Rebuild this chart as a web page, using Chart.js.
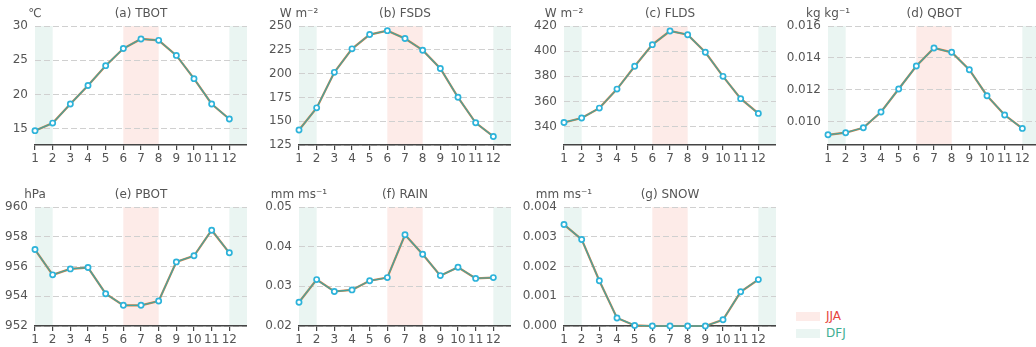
<!DOCTYPE html>
<html>
<head>
<meta charset="utf-8">
<script src="https://cdn.jsdelivr.net/npm/chart.js@4.4.0/dist/chart.umd.min.js"></script>
<style>
  html, body { margin: 0; padding: 0; background: #fff; width: 1036px; height: 347px; overflow: hidden; }
  canvas { position: absolute; }
  .key { position: absolute; left: 796px; height: 14px; font-family: 'DejaVu Sans', sans-serif; font-size: 12px; line-height: 14px; }
  .key span.box { position: absolute; left: 0; top: 3px; width: 24px; height: 9px; }
  .key span.txt { position: absolute; left: 30px; top: 0; white-space: nowrap; }
</style>
</head>
<body>
<div id="wrap"></div>
<div class="key" style="top:309px"><span class="box" style="background:#fdebe8"></span><span class="txt" style="color:#e6453c">JJA</span></div>
<div class="key" style="top:326px"><span class="box" style="background:#eaf5f2"></span><span class="txt" style="color:#3fae93">DFJ</span></div>
<script>
// monthly climatology, one array per variable
const months = [1, 2, 3, 4, 5, 6, 7, 8, 9, 10, 11, 12];
const tbot = [14.7, 15.8, 18.6, 21.3, 24.2, 26.7, 28.1, 27.9, 25.7, 22.3, 18.6, 16.4];
const fsds = [140.7, 164.0, 201.3, 226.0, 241.0, 245.1, 236.8, 224.6, 205.4, 175.1, 148.3, 134.0];
const flds = [343.4, 346.9, 354.8, 369.9, 388.0, 405.2, 416.0, 413.1, 399.1, 380.0, 362.3, 350.6];
const qbot = [0.00918, 0.00931, 0.00962, 0.01061, 0.01205, 0.01349, 0.01462, 0.01435, 0.01326, 0.01163, 0.01042, 0.00958];
const pbot = [957.14, 955.44, 955.84, 955.93, 954.17, 953.39, 953.39, 953.68, 956.31, 956.72, 958.44, 956.92];
const rain = [0.0260, 0.0317, 0.0287, 0.0291, 0.0314, 0.0322, 0.0430, 0.0381, 0.0327, 0.0348, 0.0320, 0.0322];
const snow = [0.00341, 0.00291, 0.00152, 0.00027, 0.00002, 0, 0, 0, 0, 0.00021, 0.00115, 0.00156];

// y tick values
const tbotTicks = [15, 20, 25, 30];
const fsdsTicks = [125, 150, 175, 200, 225, 250];
const fldsTicks = [340, 360, 380, 400, 420];
const qbotTicks = [0.010, 0.012, 0.014, 0.016];
const pbotTicks = [952, 954, 956, 958, 960];
const rainTicks = [0.02, 0.03, 0.04, 0.05];
const snowTicks = [0, 0.001, 0.002, 0.003, 0.004];

// season bands [from, to] on the month axis
const jja = [[6, 8]];
const djf = [[1, 2], [12, 13]];

const FONT = 'DejaVu Sans';

const panels = [
  { title: '(a) TBOT', unit: '℃',       data: tbot, ticks: tbotTicks, min: 12.6,    max: 30,    dp: 0, left: 0,   top: 0,   axis: 35 },
  { title: '(b) FSDS', unit: 'W m⁻²',    data: fsds, ticks: fsdsTicks, min: 125,     max: 250,   dp: 0, left: 262, top: 0,   axis: 299 },
  { title: '(c) FLDS', unit: 'W m⁻²',    data: flds, ticks: fldsTicks, min: 325.5,   max: 420,   dp: 0, left: 516, top: 0,   axis: 564 },
  { title: '(d) QBOT', unit: 'kg kg⁻¹',  data: qbot, ticks: qbotTicks, min: 0.00854, max: 0.016, dp: 3, left: 782, top: 0,   axis: 828 },
  { title: '(e) PBOT', unit: 'hPa',      data: pbot, ticks: pbotTicks, min: 952,     max: 960,   dp: 0, left: 0,   top: 181, axis: 35 },
  { title: '(f) RAIN', unit: 'mm ms⁻¹',  data: rain, ticks: rainTicks, min: 0.02,    max: 0.05,  dp: 2, left: 262, top: 181, axis: 299 },
  { title: '(g) SNOW', unit: 'mm ms⁻¹',  data: snow, ticks: snowTicks, min: 0,       max: 0.004, dp: 3, left: 516, top: 181, axis: 564 }
];

// season shading behind grid and lines
const seasonShade = {
  id: 'seasonShade',
  beforeDraw(chart) {
    const { ctx, chartArea, scales: { x } } = chart;
    ctx.save();
    const fill = (bands, color) => {
      ctx.fillStyle = color;
      for (const [a, b] of bands) {
        const x0 = x.getPixelForValue(a), x1 = x.getPixelForValue(b);
        ctx.fillRect(x0, chartArea.top, x1 - x0, chartArea.bottom - chartArea.top);
      }
    };
    fill(jja, '#fdebe8');
    fill(djf, '#eaf5f2');
    ctx.restore();
  }
};

// panel title and unit above the plot
const panelText = {
  id: 'panelText',
  afterDraw(chart, args, opts) {
    const { ctx, chartArea } = chart;
    ctx.save();
    ctx.font = '12px ' + FONT;
    ctx.fillStyle = '#555';
    ctx.textAlign = 'center';
    ctx.textBaseline = 'middle';
    const y = chartArea.top - 12;
    ctx.fillText(opts.title, (chartArea.left + chartArea.right) / 2, y);
    ctx.fillText(opts.unit, chartArea.left, y);
    ctx.restore();
  }
};

const wrap = document.getElementById('wrap');
panels.forEach(p => {
  const cv = document.createElement('canvas');
  const w = p.axis + 212 - p.left;
  cv.width = w;
  cv.height = 166;
  cv.style.left = p.left + 'px';
  cv.style.top = p.top + 'px';
  cv.style.width = w + 'px';
  cv.style.height = '166px';
  wrap.appendChild(cv);

  const points = months.map((m, i) => ({ x: m, y: p.data[i] }));
  new Chart(cv.getContext('2d'), {
    type: 'line',
    data: {
      datasets: [
        {
          data: points,
          borderColor: '#45a39e',
          borderWidth: 1.3,
          pointRadius: 2.6,
          pointBorderWidth: 1.7,
          pointBackgroundColor: '#ffffff',
          pointBorderColor: '#2db3da',
          tension: 0,
          clip: false
        },
        {
          data: points,
          borderColor: '#d4824a',
          borderWidth: 2.2,
          pointRadius: 0,
          tension: 0,
          clip: false
        }
      ]
    },
    options: {
      animation: false,
      responsive: false,
      devicePixelRatio: 1,
      layout: { autoPadding: false, padding: { top: 26, left: 0, right: 0, bottom: 0 } },
      plugins: {
        legend: { display: false },
        tooltip: { enabled: false },
        panelText: { title: p.title, unit: p.unit }
      },
      scales: {
        x: {
          type: 'linear',
          min: 1,
          max: 13,
          afterBuildTicks: s => { s.ticks = months.map(v => ({ value: v })); },
          afterFit: s => { s.height = 21; s.paddingLeft = 0; s.paddingRight = 0; },
          grid: { drawOnChartArea: false, drawTicks: true, tickLength: 5, color: '#444', lineWidth: 1.2 },
          border: { display: true, color: '#444', width: 1.5 },
          ticks: { color: '#555', font: { family: FONT, size: 12 }, padding: 2, maxRotation: 0, autoSkip: false }
        },
        y: {
          min: p.min,
          max: p.max,
          afterBuildTicks: s => { s.ticks = p.ticks.map(v => ({ value: v })); },
          afterFit: s => { s.width = p.axis - p.left; s.paddingTop = 0; s.paddingBottom = 0; },
          grid: { color: '#d0d0d0', lineWidth: 1, drawTicks: false },
          border: { display: false, dash: [6, 3] },
          ticks: { color: '#555', font: { family: FONT, size: 12 }, padding: 7, callback: v => Number(v).toFixed(p.dp) }
        }
      }
    },
    plugins: [seasonShade, panelText]
  });
});
</script>
</body>
</html>
